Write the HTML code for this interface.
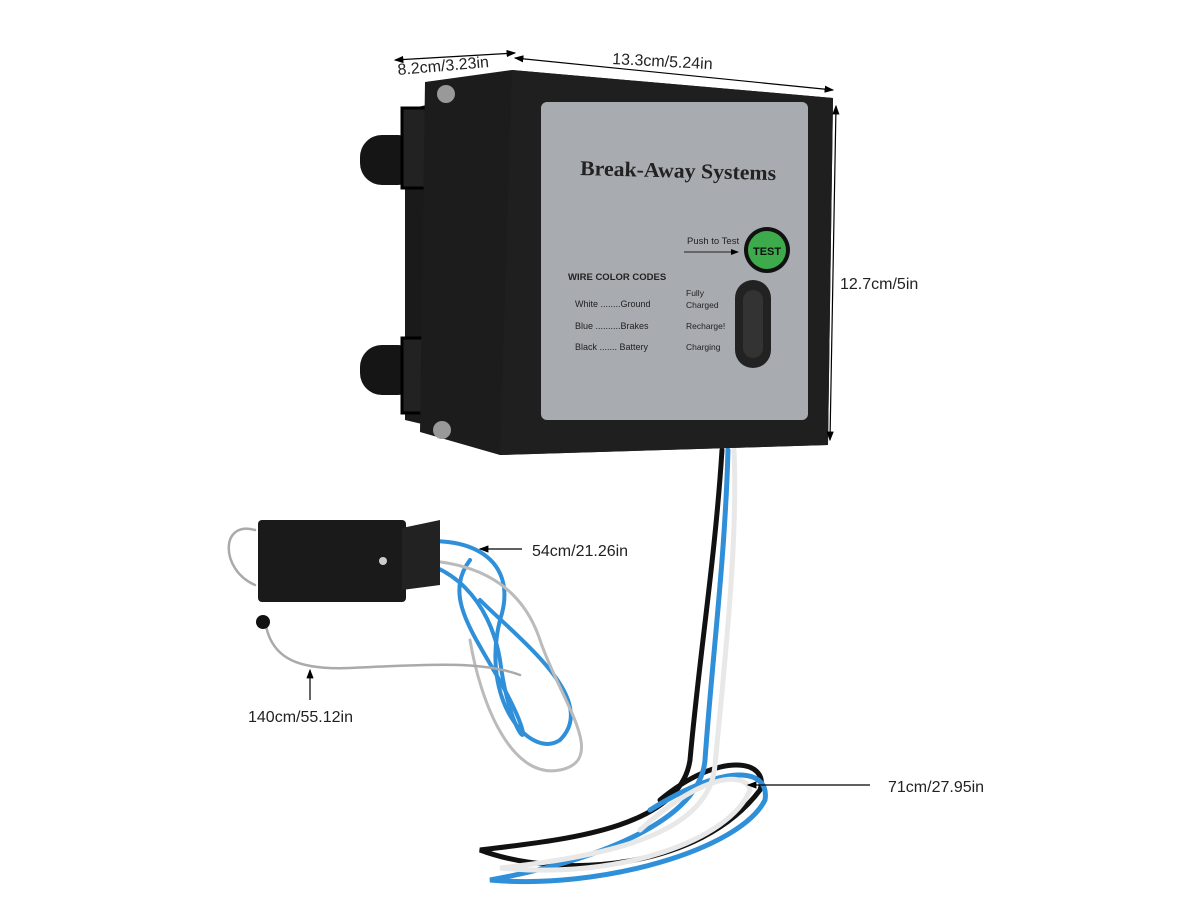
<!DOCTYPE html>
<html><head><meta charset="utf-8"><style>
html,body{margin:0;padding:0;background:#fff;}
svg{display:block}
text{font-family:"Liberation Sans",sans-serif;}
</style></head><body>
<svg width="1200" height="900" viewBox="0 0 1200 900" xmlns="http://www.w3.org/2000/svg">
<defs><marker id="a" markerWidth="8" markerHeight="8" refX="7" refY="4" orient="auto-start-reverse"><path d="M0 1 L8 4 L0 7 Z" fill="#000"/></marker></defs>
<rect width="1200" height="900" fill="#fff"/>
<g fill="none" stroke-linecap="round">
<path d="M722 450 C715 560 700 650 690 760 C680 830 560 840 480 850 C560 880 700 870 760 790 C770 760 720 750 660 800" stroke="#111" stroke-width="5"/>
<path d="M728 450 C725 560 712 660 705 760 C700 820 600 860 490 880 C600 890 740 850 765 800 C770 770 730 760 650 810" stroke="#2f8fd8" stroke-width="5"/>
<path d="M734 450 C738 540 725 660 715 765 C710 830 620 855 500 868 C620 880 730 840 750 790 C745 770 700 775 640 830" stroke="#e8e8e8" stroke-width="5"/>
</g>
<path d="M405 110 L490 90 L490 440 L405 420 Z" fill="#1a1a1a"/>
<rect x="360" y="135" width="60" height="50" rx="22" fill="#151515"/>
<rect x="360" y="345" width="60" height="50" rx="22" fill="#151515"/>
<rect x="402" y="108" width="85" height="80" fill="#222" stroke="#000" stroke-width="3"/>
<rect x="402" y="338" width="85" height="75" fill="#222" stroke="#000" stroke-width="3"/>
<path d="M425 82 L512 70 L833 98 L828 445 L500 455 L420 432 Z" fill="#1c1c1c"/>
<path d="M512 70 L833 98 L828 445 L500 455 Z" fill="#1f1f1f"/>
<circle cx="446" cy="94" r="9" fill="#999"/>
<circle cx="442" cy="430" r="9" fill="#999"/>
<rect x="541" y="102" width="267" height="318" rx="6" fill="#a8abb0"/>
<text x="580" y="175" style="font-family:'Liberation Serif',serif" font-weight="bold" font-size="21" fill="#222" transform="rotate(1.5 580 175)" textLength="196" lengthAdjust="spacingAndGlyphs">Break-Away Systems</text>
<text x="687" y="244" font-size="9.5" fill="#222">Push to Test</text>
<line x1="684" y1="252" x2="738" y2="252" stroke="#222" stroke-width="1" marker-end="url(#a)"/>
<circle cx="767" cy="250" r="23" fill="#111"/>
<circle cx="767" cy="250" r="19" fill="#3dab4b"/>
<text x="753" y="255" font-size="11" font-weight="bold" fill="#111">TEST</text>
<text x="568" y="280" font-size="9.5" font-weight="bold" fill="#222">WIRE COLOR CODES</text>
<text x="575" y="307" font-size="9" fill="#222">White ........Ground</text>
<text x="575" y="329" font-size="9" fill="#222">Blue ..........Brakes</text>
<text x="575" y="350" font-size="9" fill="#222">Black ....... Battery</text>
<text x="686" y="296" font-size="8.5" fill="#222">Fully</text>
<text x="686" y="308" font-size="8.5" fill="#222">Charged</text>
<text x="686" y="329" font-size="8.5" fill="#222">Recharge!</text>
<text x="686" y="350" font-size="8.5" fill="#222">Charging</text>
<rect x="735" y="280" width="36" height="88" rx="18" fill="#222"/>
<rect x="743" y="290" width="20" height="68" rx="10" fill="#333"/>
<g fill="none" stroke-linecap="round">
<path d="M400 545 C470 530 520 560 500 620 C480 700 530 760 560 740 C600 700 520 640 480 600" stroke="#2f8fd8" stroke-width="4"/>
<path d="M400 560 C450 560 490 600 500 660 C510 740 540 760 510 700 C480 640 440 600 470 560" stroke="#2f8fd8" stroke-width="4"/>
<path d="M410 560 C470 560 520 580 540 640 C560 700 610 760 560 770 C510 780 480 700 470 640" stroke="#bbb" stroke-width="3"/>
<path d="M255 530 C220 520 220 570 255 585 M265 620 C270 660 300 670 350 668 C420 665 480 660 520 675" stroke="#aaa" stroke-width="2.5"/>
</g>
<rect x="258" y="520" width="148" height="82" rx="4" fill="#1a1a1a"/>
<path d="M402 528 L440 520 L440 585 L402 590 Z" fill="#222"/>
<circle cx="383" cy="561" r="4" fill="#ccc"/>
<circle cx="263" cy="622" r="7" fill="#111"/>
<g stroke="#000" stroke-width="1.2" fill="none">
<line x1="395" y1="60" x2="515" y2="53" marker-start="url(#a)" marker-end="url(#a)"/>
<line x1="515" y1="58" x2="833" y2="90" marker-start="url(#a)" marker-end="url(#a)"/>
<line x1="836" y1="106" x2="830" y2="440" marker-start="url(#a)" marker-end="url(#a)"/>
<line x1="522" y1="549" x2="480" y2="549" marker-end="url(#a)"/>
<line x1="310" y1="700" x2="310" y2="670" marker-end="url(#a)"/>
<line x1="870" y1="785" x2="748" y2="785" marker-end="url(#a)"/>
</g>
<text x="398" y="75" font-size="16" fill="#222" transform="rotate(-5 398 75)">8.2cm/3.23in</text>
<text x="612" y="64" font-size="16" fill="#222" transform="rotate(3 612 64)">13.3cm/5.24in</text>
<text x="840" y="289" font-size="16" fill="#222">12.7cm/5in</text>
<text x="532" y="556" font-size="16" fill="#222">54cm/21.26in</text>
<text x="248" y="722" font-size="16" fill="#222">140cm/55.12in</text>
<text x="888" y="792" font-size="16" fill="#222">71cm/27.95in</text>
</svg>
</body></html>
